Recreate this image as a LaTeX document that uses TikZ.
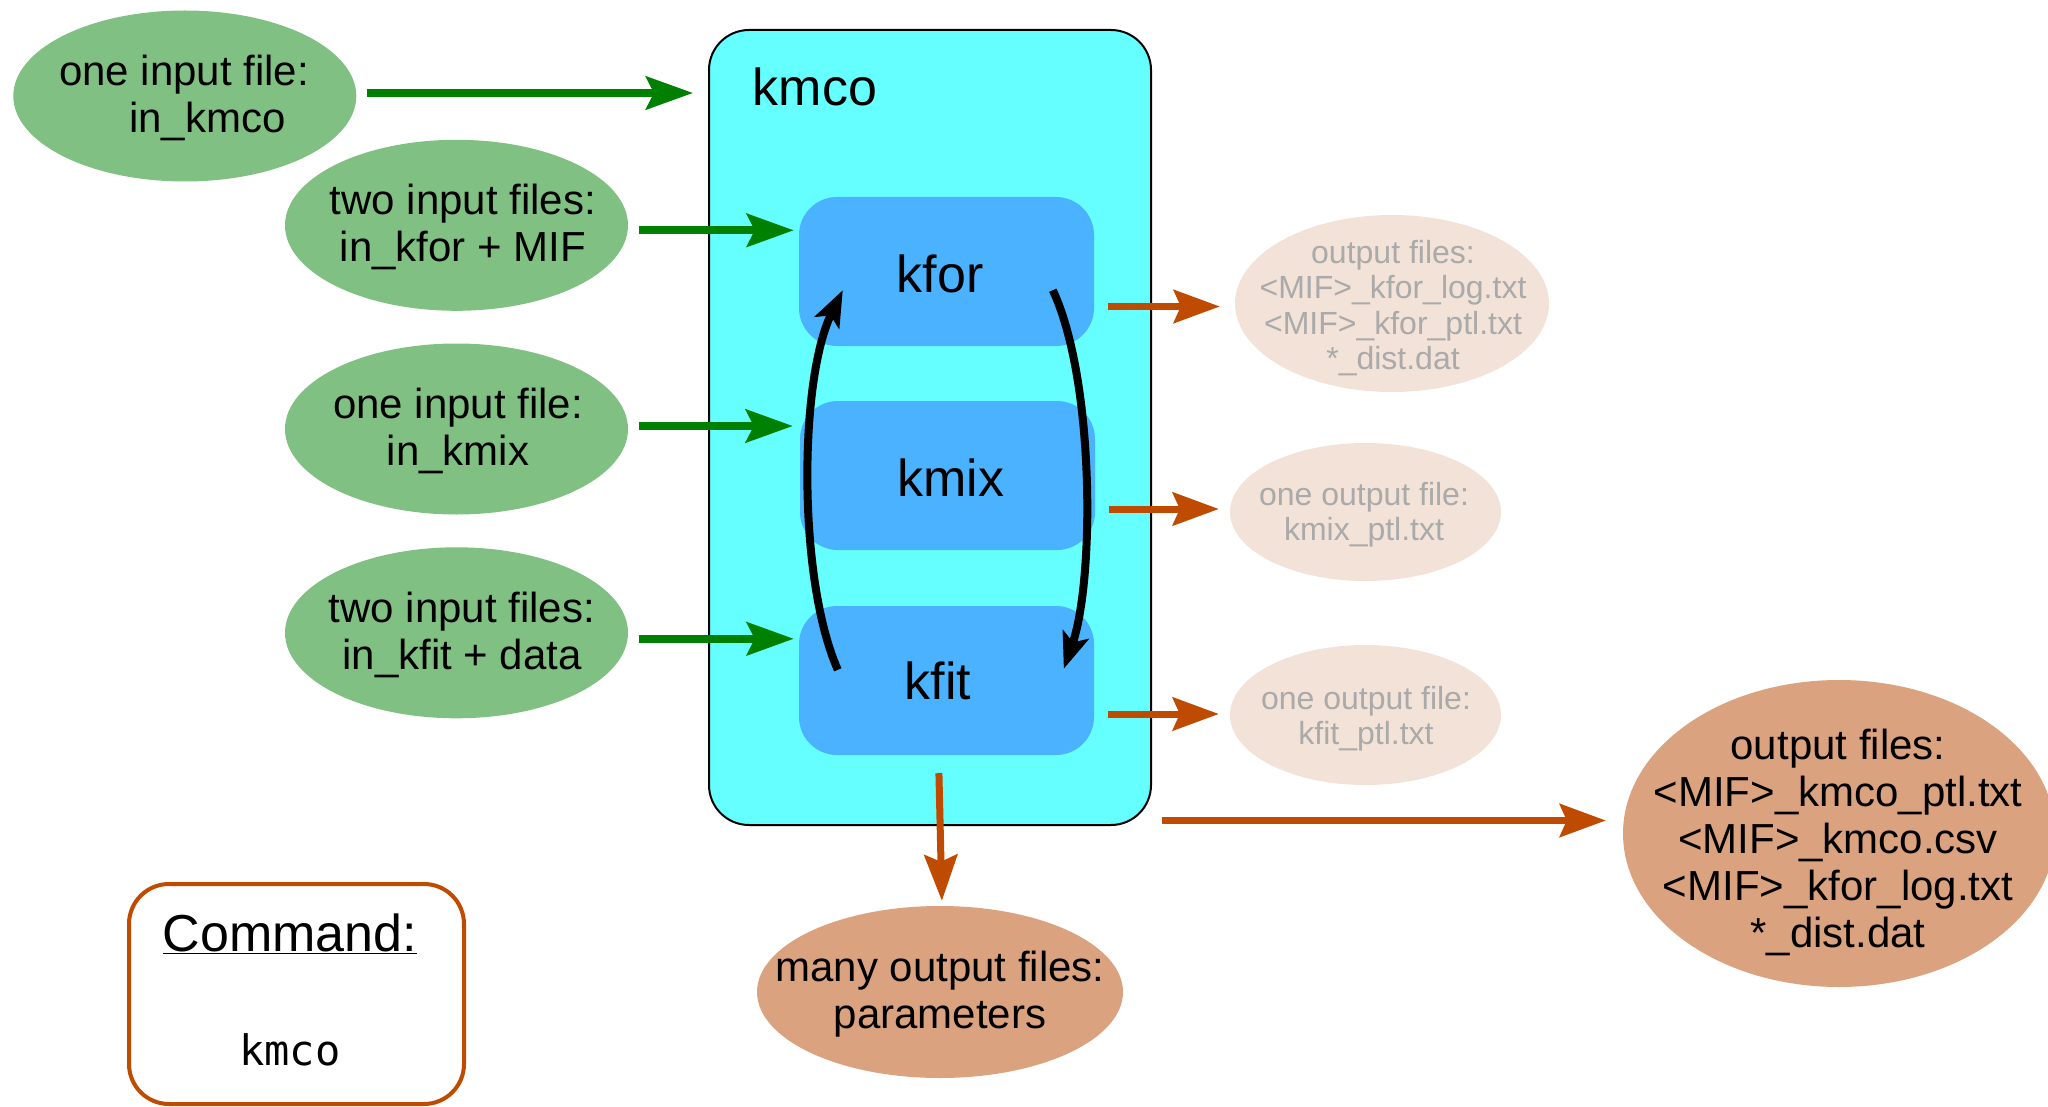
\documentclass[tikz,border=0pt]{standalone}
\usepackage{fontspec}
\setmainfont{Liberation Sans}
\newfontfamily\cmdmono{DejaVu Sans Mono}
\usetikzlibrary{shapes.geometric,arrows.meta,calc}
\definecolor{cyanbox}{RGB}{102,255,255}
\definecolor{bluebox}{RGB}{74,178,255}
\definecolor{ingreen}{RGB}{129,192,131}
\definecolor{arrgreen}{RGB}{0,128,0}
\definecolor{arrorange}{RGB}{190,75,0}
\definecolor{outlight}{RGB}{242,226,216}
\definecolor{outgray}{RGB}{170,170,170}
\definecolor{outdark}{RGB}{219,162,127}
\begin{document}
\begin{tikzpicture}[x=1pt,y=-1pt,
  inell/.style={ellipse, fill=ingreen, minimum width=343pt, minimum height=171pt, inner sep=0pt},
  lightell/.style={ellipse, fill=outlight, inner sep=0pt},
  darkell/.style={ellipse, fill=outdark, inner sep=0pt},
  bigtxt/.style={align=center, inner sep=0pt, font=\fontsize{42}{47}\selectfont},
  smalltxt/.style={align=center, inner sep=0pt, text=outgray, font=\fontsize{32}{35.3}\selectfont},
  titletxt/.style={inner sep=0pt, font=\fontsize{52}{58}\selectfont},
  subbox/.style={rectangle, rounded corners=38pt, fill=bluebox, minimum width=295pt, minimum height=149pt, inner sep=0pt},
  garrow/.style={draw=arrgreen, line width=7.7pt, -{Stealth[length=47pt,width=33pt,inset=8pt]}},
  oarrow/.style={draw=arrorange, line width=7pt, -{Stealth[length=46pt,width=33pt,inset=7pt]}},
  karrow/.style={draw=black, line width=8pt, -{Stealth[length=36pt,width=27pt,inset=8pt]}}
]
\useasboundingbox (0,0) rectangle (2048,1107);

% main kmco box
\node[rectangle, rounded corners=40pt, fill=cyanbox, draw=black, line width=2pt,
      minimum width=442pt, minimum height=795pt, inner sep=0pt] (kmco) at (930,427.5) {};
\node[titletxt, anchor=center] (kmcot) at (815,87) {kmco};

% sub boxes
\node[subbox] (kfor) at (946.5,271.5) {};
\node[subbox] (kmix) at (947.5,475.5) {};
\node[subbox] (kfit) at (946.5,680.5) {};
\node[titletxt] (kfort) at (940,274) {kfor};
\node[titletxt] (kmixt) at (951,478) {kmix};
\node[titletxt] (kfitt) at (938,681) {kfit};

% input ellipses
\node[inell] (in1) at (184.8,96) {};
\node[inell] (in2) at (456.5,225.3) {};
\node[inell] (in3) at (456.5,429) {};
\node[inell] (in4) at (456.5,632.8) {};
\node[bigtxt] (in1t) at (184,98) {one input file:\\\hspace*{47pt}in\_kmco};
\node[bigtxt] (in2t) at (463,227) {two input files:\\in\_kfor + MIF};
\node[bigtxt] (in3t) at (458,431) {one input file:\\in\_kmix};
\node[bigtxt] (in4t) at (462,635) {two input files:\\in\_kfit + data};

% light output ellipses
\node[lightell, minimum width=314pt, minimum height=177pt] (out1) at (1392,303.5) {};
\node[lightell, minimum width=271pt, minimum height=138pt] (out2) at (1365.5,512) {};
\node[lightell, minimum width=271pt, minimum height=140pt] (out3) at (1365.5,715) {};
\node[smalltxt] (out1t) at (1393,308) {output files:\\<MIF>\_kfor\_log.txt\\<MIF>\_kfor\_ptl.txt\\*\_dist.dat};
\node[smalltxt] (out2t) at (1364,515) {one output file:\\kmix\_ptl.txt};
\node[smalltxt] (out3t) at (1366,719) {one output file:\\kfit\_ptl.txt};

% dark output ellipses
\node[darkell, minimum width=366pt, minimum height=172pt] (many) at (940,992) {};
\node[bigtxt] (manyt) at (940,994) {many output files:\\parameters};
\node[darkell, minimum width=432pt, minimum height=307pt] (bigout) at (1839,833.5) {};
\node[bigtxt] (bigoutt) at (1838,842) {output files:\\<MIF>\_kmco\_ptl.txt\\<MIF>\_kmco.csv\\<MIF>\_kfor\_log.txt\\*\_dist.dat};

% command box
\node[rectangle, rounded corners=40pt, draw=arrorange, line width=4pt, fill=white,
      minimum width=335pt, minimum height=220pt, inner sep=0pt] (cmd) at (296.5,994) {};
\node[titletxt] (cmdt) at (290,934) {\underline{Command:}};
\node[inner sep=0pt, font=\fontsize{42}{47}\cmdmono] (cmdk) at (290,1050) {kmco};

% green arrows
\draw[garrow, shorten <=10pt, shorten >=15pt] ([yshift=3pt]in1.east) -- ([yshift=3pt]in1.east -| kmco.west);
\draw[garrow, shorten <=11pt, shorten >=5pt] ([yshift=-5pt]in2.east) -- ([yshift=-5pt]in2.east -| kfor.west);
\draw[garrow, shorten <=11pt, shorten >=7pt] ([yshift=3pt]in3.east) -- ([yshift=3pt]in3.east -| kmix.west);
\draw[garrow, shorten <=11pt, shorten >=5pt] ([yshift=-6pt]in4.east) -- ([yshift=-6pt]in4.east -| kfit.west);

% orange arrows
\draw[oarrow, shorten <=14pt, shorten >=15pt] ([yshift=-3pt]out1.west -| kfor.east) -- ([yshift=-3pt]out1.west);
\draw[oarrow, shorten <=14pt, shorten >=11pt] ([yshift=3pt]out2.west -| kmix.east) -- ([yshift=3pt]out2.west);
\draw[oarrow, shorten <=14pt, shorten >=11pt] ([yshift=1pt]out3.west -| kfit.east) -- ([yshift=1pt]out3.west);
\draw[oarrow, shorten <=18pt, shorten >=5pt] ([xshift=-8pt]kfit.south) -- ([xshift=2pt]many.north);
\draw[oarrow, shorten <=10pt, shorten >=17pt] ([yshift=13pt]bigout.west -| kmco.east) -- ([yshift=13pt]bigout.west);

% black cycle arrows
\coordinate (ls) at ($(kfit.north west)+(39,64)$);
\coordinate (le) at ($(kfor.south west)+(44,-56)$);
\coordinate (rs) at ($(kfor.south west)+(254,-56)$);
\coordinate (re) at ($(kfit.north west)+(265,63)$);
\draw[karrow] (ls) .. controls ($(ls)+(-40,-90)$) and ($(le)+(-44,90)$) .. (le);
\draw[karrow] (rs) .. controls ($(rs)+(42,90)$) and ($(re)+(31,-89)$) .. (re);
\end{tikzpicture}
\end{document}
